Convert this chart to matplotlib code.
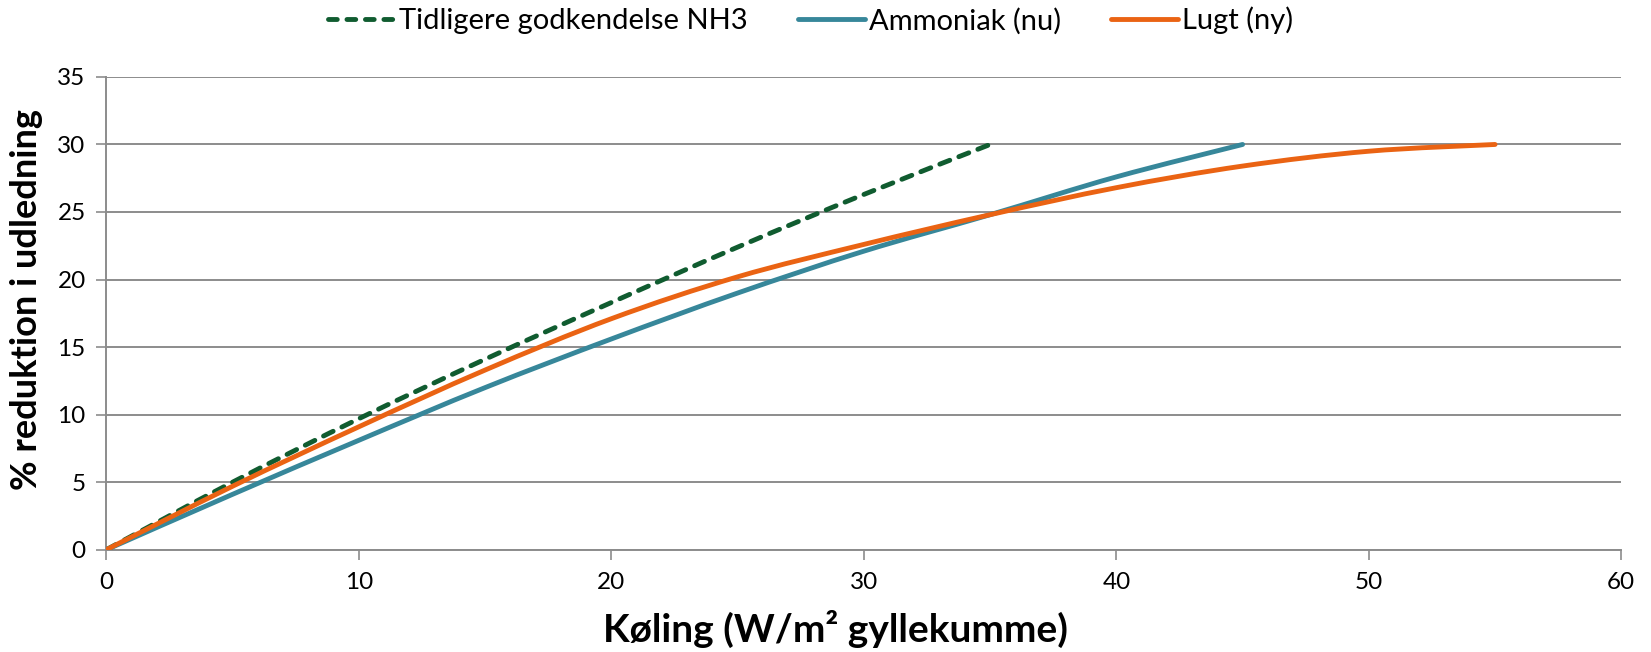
import matplotlib
matplotlib.use("Agg")
import matplotlib.pyplot as plt
from matplotlib.path import Path
from matplotlib.patches import PathPatch
from matplotlib.lines import Line2D
import numpy as np

plt.rcParams["font.family"] = ["Lato", "DejaVu Sans"]

# data
nh3_x = [0, 5, 10, 15, 20, 25, 30, 35]
nh3_y = [0, 5.0, 9.7, 14.1, 18.3, 22.4, 26.3, 30.0]

ammoniak_x = [0, 5, 10, 15, 20, 25, 30, 35, 40, 45]
ammoniak_y = [0, 4.1, 8.1, 12.0, 15.6, 19.0, 22.1, 24.8, 27.6, 30.0]

lugt_x = [0, 5, 10, 15, 20, 25, 30, 35, 40, 45, 50, 55]
lugt_y = [0, 4.7, 9.1, 13.3, 17.1, 20.2, 22.6, 24.8, 26.8, 28.4, 29.5, 30.0]

labels = ["Tidligere godkendelse NH3", "Ammoniak (nu)", "Lugt (ny)"]
colors = ["#105c30", "#37879a", "#ea6313"]
x_ticks = [0, 10, 20, 30, 40, 50, 60]
y_ticks = [0, 5, 10, 15, 20, 25, 30, 35]


def smooth_path(xs, ys):
    """Excel-like smoothed line: Catmull-Rom segments as cubic Beziers."""
    pts = np.column_stack([xs, ys]).astype(float)
    verts = [pts[0]]
    codes = [Path.MOVETO]
    n = len(pts)
    for i in range(n - 1):
        p0 = pts[max(i - 1, 0)]
        p1 = pts[i]
        p2 = pts[i + 1]
        p3 = pts[min(i + 2, n - 1)]
        c1 = p1 + (p2 - p0) / 6.0
        c2 = p2 - (p3 - p1) / 6.0
        verts += [c1, c2, p2]
        codes += [Path.CURVE4] * 3
    return Path(verts, codes)


fig = plt.figure(figsize=(16.51, 6.52), dpi=100)
ax = fig.add_axes([0.0645, 0.157, 0.9175, 0.725])

dash = (0, (2.2, 2.0))
series = [(nh3_x, nh3_y, True), (ammoniak_x, ammoniak_y, False), (lugt_x, lugt_y, False)]
handles = []
for (xs, ys, dashed), col, lab in zip(series, colors, labels):
    patch = PathPatch(smooth_path(xs, ys), facecolor="none", edgecolor=col,
                      lw=3.5, capstyle="round", zorder=3)
    if dashed:
        patch.set_linestyle(dash)
    ax.add_patch(patch)
    h = Line2D([], [], color=col, lw=3.5, solid_capstyle="round", dash_capstyle="round")
    if dashed:
        h.set_linestyle((0, (1.8, 2.0)))
    handles.append(h)

ax.set_xlim(0, 60)
ax.set_ylim(0, 35)
ax.set_xticks(x_ticks)
ax.set_yticks(y_ticks)
ax.yaxis.grid(True, color="#8c8c8c", lw=1.4)
ax.set_axisbelow(True)
for s in ["top", "right"]:
    ax.spines[s].set_visible(False)
for s in ["left", "bottom"]:
    ax.spines[s].set_color("#8c8c8c")
    ax.spines[s].set_linewidth(1.4)
ax.tick_params(axis="x", direction="out", length=7, width=1.2, color="#8c8c8c",
               labelsize=17.5, pad=9)
ax.tick_params(axis="y", direction="out", length=7, width=1.2, color="#8c8c8c",
               labelsize=17.5, pad=8)

ax.set_xlabel("Køling (W/m² gyllekumme)", fontsize=28, fontweight="bold")
ax.xaxis.set_label_coords(0.481, -0.128)
ax.set_ylabel("% reduktion i udledning", fontsize=26, fontweight="bold")
ax.yaxis.set_label_coords(-0.042, 0.53)

fig.legend(handles, labels, loc="upper center", bbox_to_anchor=(0.491, 1.03), ncol=3,
           frameon=False, fontsize=21, handlelength=2.3, columnspacing=1.7,
           handletextpad=0.15)

fig.savefig("out.png", dpi=100)
